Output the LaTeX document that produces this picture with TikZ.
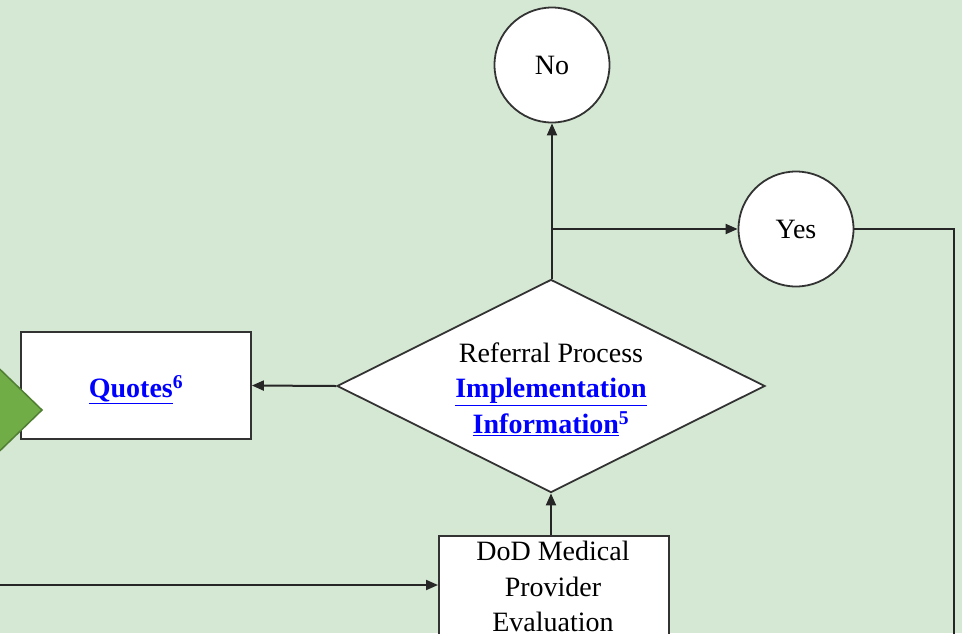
\documentclass[tikz,border=0pt]{standalone}
\usepackage{fontspec}
\setmainfont{Liberation Serif}
\usetikzlibrary{shapes.geometric,arrows.meta}
\definecolor{bgreen}{HTML}{D5E8D4}
\definecolor{arrowgreen}{HTML}{70AD47}
\definecolor{arrowedge}{HTML}{507E32}
\definecolor{linkblue}{HTML}{0000FF}
\definecolor{edgegray}{HTML}{333333}
\newcommand{\lnk}[1]{\textcolor{linkblue}{\textbf{\underline{#1}}}}
\newcommand{\supl}[1]{\textcolor{linkblue}{\textsuperscript{\textbf{#1}}}}
\tikzset{
  every node/.style={font=\fontsize{28}{35.5}\selectfont},
  boxnode/.style={draw=edgegray, line width=1.8pt, fill=white, inner sep=0pt, align=center},
  circnode/.style={draw=edgegray, line width=1.8pt, fill=white, circle, minimum size=115pt, inner sep=0pt},
  dianode/.style={draw=edgegray, line width=1.8pt, fill=white, diamond, minimum width=428pt, minimum height=213pt, inner sep=0pt},
  textnode/.style={align=center, inner sep=0pt},
  conn/.style={draw=black!85, line width=2pt},
  arr/.style={conn, -{Triangle[length=12pt,width=10pt]}}
}
\begin{document}
\begin{tikzpicture}[x=1pt,y=-1pt]
\useasboundingbox (0,0) rectangle (962,633);
\fill[bgreen] (0,0) rectangle (962,633);
% nodes
\node[circnode] (no) at (552,65) {No};
\node[circnode] (yes) at (796,229) {Yes};
\node[dianode] (dia) at (551,386) {};
\node[textnode] (diatext) at (551,389) {Referral Process\\\lnk{Implementation}\\\lnk{Information}\supl{5}};
\node[boxnode, minimum width=230pt, minimum height=107pt] (quotes) at (136,385.5) {};
\node[textnode] (quotestext) at (136,390) {\lnk{Quotes}\supl{6}};
\node[boxnode, anchor=north west, minimum width=230pt, minimum height=140pt] (dod) at (438,535) {};
\node[textnode, anchor=north] (dodtext) at (553,541) {DoD Medical\\Provider\\Evaluation};
% green arrow tip on the left (drawn over the Quotes box)
\filldraw[fill=arrowgreen, draw=arrowedge, line width=1.5pt] (-20,350) -- (42,410) -- (-20,470) -- cycle;
\coordinate (lin) at (0,585);
\coordinate (br) at (552,229);
\coordinate (rb) at (954,640);
% connectors
\draw[arr] (lin) -- (lin -| dod.west);
\draw[arr] (dod.north -| dia.south) -- (dia.south);
\draw[arr] (dia.west) -- (quotes.east);
\draw[arr] (dia.north -| no.south) -- (no.south);
\draw[arr] (br) -- (yes.west);
\draw[conn] (yes.east) -| (rb);
\end{tikzpicture}
\end{document}
